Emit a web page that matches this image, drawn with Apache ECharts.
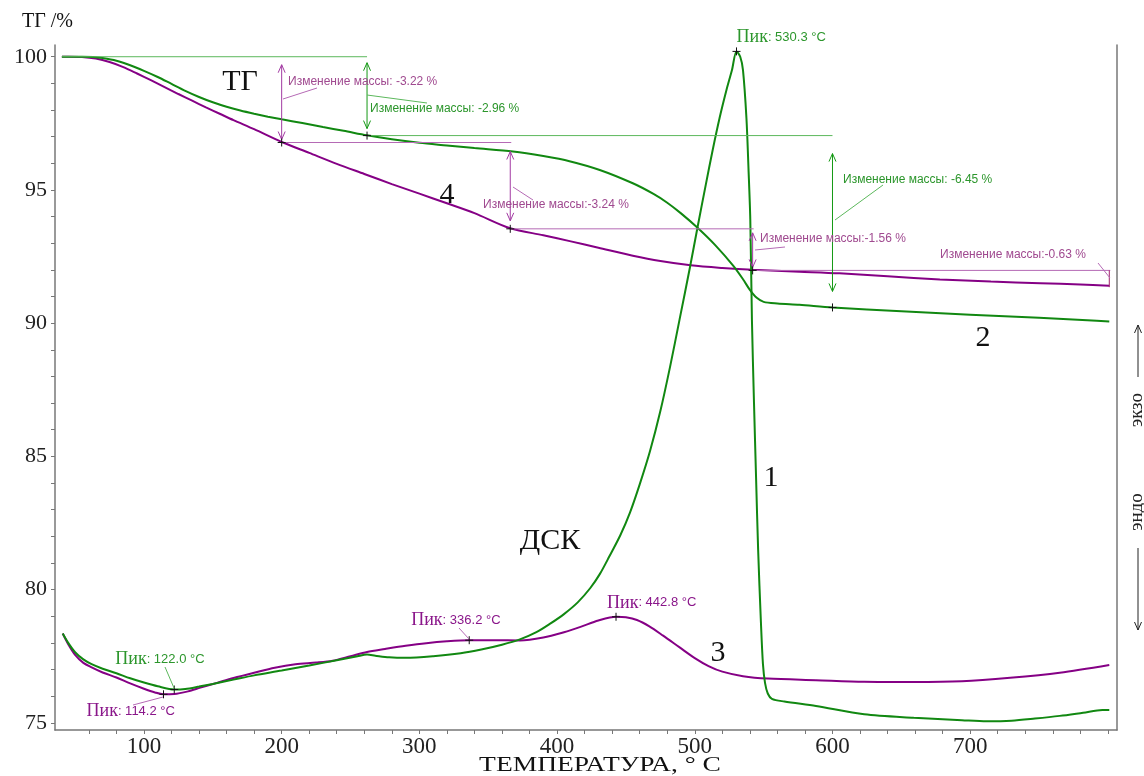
<!DOCTYPE html>
<html><head><meta charset="utf-8">
<script src="https://cdn.jsdelivr.net/npm/echarts@6/dist/echarts.min.js"></script>
<style>html,body{margin:0;padding:0;background:#fff}#c{width:1144px;height:776px}</style>
</head><body><div id="c"></div>
<script>
// ---- axis ticks / labels ----
const xTicks = [60,80,100,120,140,160,180,200,220,240,260,280,300,320,340,360,380,400,420,440,460,480,500,520,540,560,580,600,620,640,660,680,700,720,740,760,780,800];
const xLabels = [100,200,300,400,500,600,700];
const yTicks = [75,76,77,78,79,80,81,82,83,84,85,86,87,88,89,90,91,92,93,94,95,96,97,98,99,100];
const yLabels = [75,80,85,90,95,100];

// ---- curves [temperature, value] ----
const tgGreen = [[40.4,100],[55,100],[63,99.99],[70,99.95],[80,99.85],[90,99.68],[100,99.47],[110,99.24],[120,98.98],[130,98.72],[140,98.49],[150,98.29],[160,98.12],[170,97.98],[180,97.86],[190,97.75],[200,97.65],[215,97.51],[230,97.36],[245,97.22],[262,97.05],[280,96.9],[300,96.77],[320,96.67],[340,96.57],[368,96.44],[390,96.27],[409,96.08],[431,95.75],[455,95.25],[470,94.85],[480,94.52],[490,94.12],[502,93.58],[515,92.92],[528,92.15],[535,91.65],[540,91.25],[545,90.95],[550,90.8],[560,90.74],[576,90.69],[600,90.59],[650,90.45],[700,90.32],[750,90.2],[785,90.11],[801,90.06]];
const tgPurple = [[40.4,100],[45,100],[55,99.99],[65,99.93],[75,99.8],[85,99.61],[95,99.37],[105,99.12],[115,98.86],[125,98.6],[135,98.35],[145,98.1],[155,97.86],[165,97.62],[180,97.28],[200,96.8],[220,96.39],[240,95.98],[260,95.6],[280,95.22],[300,94.86],[320,94.5],[340,94.13],[366,93.56],[390,93.3],[410,93.07],[430,92.83],[455,92.53],[475,92.33],[497,92.17],[520,92.07],[542,92.0],[576,91.93],[605,91.87],[640,91.76],[678,91.64],[715,91.56],[751,91.5],[780,91.45],[801,91.4]];
const dscGreen = [[41,78.35],[45,78.0],[50,77.65],[56,77.38],[62,77.2],[70,77.03],[80,76.86],[90,76.67],[100,76.51],[110,76.37],[122,76.25],[130,76.27],[140,76.36],[150,76.46],[165,76.62],[180,76.78],[200,76.96],[220,77.15],[240,77.35],[255,77.5],[262,77.56],[268,77.52],[278,77.46],[290,77.44],[310,77.5],[330,77.61],[345,77.75],[360,77.93],[373,78.13],[385,78.4],[395,78.72],[405,79.08],[415,79.52],[424,80.05],[431,80.58],[438,81.25],[446,82.05],[453,82.9],[460,83.95],[467.5,85.2],[475,86.7],[482,88.35],[489,90.15],[496.5,92.1],[502,93.6],[508,95.2],[513,96.5],[518,97.7],[523,98.75],[527,99.5],[530.3,100.2],[533,100.0],[535,99.5],[537.5,97.7],[539,95.8],[540.3,93.9],[541.5,90.1],[543,87],[544.5,84.2],[546,81.5],[548,78.8],[549.5,77.2],[551,76.5],[553,76.1],[556,75.9],[565,75.8],[588,75.63],[623,75.32],[659,75.19],[694,75.1],[712,75.06],[730,75.08],[747,75.16],[765,75.26],[782,75.38],[796,75.48],[801,75.48]];
const dscPurple = [[41,78.35],[45,77.95],[50,77.55],[56,77.25],[62,77.08],[70,76.89],[80,76.7],[90,76.48],[100,76.28],[108,76.14],[114,76.07],[122,76.08],[132,76.18],[141,76.32],[153,76.5],[165,76.68],[180,76.88],[195,77.07],[210,77.2],[225,77.26],[237,77.33],[250,77.5],[262,77.66],[275,77.77],[290,77.89],[305,77.99],[320,78.06],[336,78.1],[355,78.1],[373,78.09],[390,78.2],[405,78.4],[417,78.6],[430,78.84],[443,78.98],[450,78.96],[458,78.86],[467,78.62],[477,78.27],[489,77.83],[500,77.43],[510,77.13],[520,76.92],[535,76.75],[553,76.66],[588,76.6],[623,76.54],[659,76.53],[694,76.56],[729,76.69],[765,76.88],[801,77.17]];

// ---- mass-change steps ----
const tgStart = 40.4;
const greenStepX = [262, 600];
const greenLevels = [100, 97.04, 90.59];
const greenChange = ['-2.96', '-6.45'];
const purpleStepX = [200, 366, 542, 801];
const purpleLevels = [100, 96.78, 93.54, 91.98, 91.35];
const purpleChange = ['-3.22', '-3.24', '-1.56', '-0.63'];

// ---- peaks ----
const peakX = [530.3, 122.0, 114.2, 336.2, 442.8];
const peakY = [100.2, 76.25, 76.07, 78.1, 78.98];
const peakText = ['530.3', '122.0', '114.2', '336.2', '442.8'];
const peakIsGreen = [true, true, false, false, false];

// ---- styling / layout ----
const serif = "'Liberation Serif','DejaVu Serif',serif";
const sans = "'Liberation Sans',Arial,sans-serif";
const C = {g:'#118811', p:'#850085', gLight:'#5cb85c', pLight:'#b56ab5', gText:'#2c962c', pText:'#a04a90', pPeak:'#8a168a', axis:'#777'};
const greenLabelLayout = [{lx:370, ly:109, lead:[367,95,427,103], gap:[6,7]}, {lx:843, ly:180, lead:[835,220,883,185], gap:[18,16]}];
const purpleLabelLayout = [{lx:288, ly:82, lead:[283,99,317,88], gap:[8,3], sep:': '}, {lx:483, ly:205, lead:[513,187,533,200], gap:[9,8], sep:':'}, {lx:760, ly:239, lead:[755,250,785,247], gap:[4,3], sep:':'}, {lx:940, ly:255, lead:[1110,278,1098,263], gap:[0,0], sep:':', plain:true}];
const peakLayout = [[0,-14,null],[-59,-30,[165,667,174,688]],[-77,17,[133,705,163,697]],[-58,-20,[459,628,469,639]],[-9,-14,null]];

const chart = echarts.init(document.getElementById('c'), null, {renderer:'canvas'});
function curve(name, data, color) {
  return {type:'line', name, data, showSymbol:false, smooth:0.3, silent:true,
    lineStyle:{color, width:2}, itemStyle:{color}, z:3};
}
const axisCommon = {axisLine:{show:true,onZero:false,lineStyle:{color:C.axis,width:1.5}}, splitLine:{show:false}};
chart.setOption({
  animation:false,
  grid:{left:55,right:27,top:45,bottom:46},
  xAxis:Object.assign({type:'value', min:35.4, max:806.6,
    axisTick:{show:true, customValues:xTicks, length:4, lineStyle:{color:C.axis}},
    axisLabel:{customValues:xLabels, fontFamily:serif, fontSize:23, color:'#222', margin:5}}, axisCommon),
  yAxis:[Object.assign({type:'value', min:74.73, max:100.44,
      axisTick:{show:true, customValues:yTicks, length:4, lineStyle:{color:C.axis}},
      axisLabel:{customValues:yLabels, fontFamily:serif, fontSize:22, color:'#222', margin:8}}, axisCommon),
    Object.assign({type:'value', position:'right', min:74.73, max:100.44, axisTick:{show:false}, axisLabel:{show:false}}, axisCommon)],
  series:[curve('tgPurple', tgPurple, C.p), curve('tgGreen', tgGreen, C.g), curve('dscPurple', dscPurple, C.p), curve('dscGreen', dscGreen, C.g)]
});

const P = (x, y) => chart.convertToPixel({gridIndex:0}, [x, y]);
const G = [];
function ln(x1,y1,x2,y2,stroke,w){G.push({type:'line',silent:true,z:10,shape:{x1,y1,x2,y2},style:{stroke,lineWidth:w||1}});}
function pl(points,stroke,w){G.push({type:'polyline',silent:true,z:10,shape:{points},style:{stroke,fill:null,lineWidth:w||1}});}
function txt(x,y,text,opt){G.push({type:'text',silent:true,z:12,x,y,rotation:opt.rot||0,scaleX:opt.sx||1,style:Object.assign({text,align:'left',verticalAlign:'middle'},opt.style)});}
function plus(x,y){ln(x-4,y,x+4,y,'#111');ln(x,y-4,x,y+4,'#111');}
function arrow(x,y1,y2,color){ln(x,y1,x,y2,color);pl([[x-3.5,y1+8],[x,y1],[x+3.5,y1+8]],color);pl([[x-3.5,y2-8],[x,y2],[x+3.5,y2-8]],color);}

// purple horizontals between steps, arrows, labels
for (let i=1;i<purpleStepX.length;i++){ const a=P(purpleStepX[i-1],purpleLevels[i]), b=P(purpleStepX[i],purpleLevels[i]); ln(a[0],a[1],b[0]+1,b[1],C.pLight); }
for (let i=0;i<purpleStepX.length;i++){
  const top=P(purpleStepX[i],purpleLevels[i]), bot=P(purpleStepX[i],purpleLevels[i+1]);
  const L=purpleLabelLayout[i];
  if (L.plain){ ln(top[0],top[1],bot[0],bot[1],'#a0206a'); }
  else { arrow(top[0], top[1]+L.gap[0], bot[1]-L.gap[1], '#a23aa2'); plus(bot[0],bot[1]); }
  ln(L.lead[0],L.lead[1],L.lead[2],L.lead[3],C.pLight);
  txt(L.lx, L.ly, 'Изменение массы' + L.sep + purpleChange[i] + ' %', {style:{fontFamily:sans,fontSize:12,fill:C.pText}});
}
// green horizontals, arrows, labels
{
  const a=P(tgStart,greenLevels[0]), b=P(greenStepX[0],greenLevels[0]); ln(a[0],a[1],b[0],b[1],C.gLight);
  const c=P(greenStepX[0],greenLevels[1]), d=P(greenStepX[1],greenLevels[1]); ln(c[0],c[1],d[0],d[1],C.gLight);
}
for (let i=0;i<greenStepX.length;i++){
  const top=P(greenStepX[i],greenLevels[i]), bot=P(greenStepX[i],greenLevels[i+1]);
  const L=greenLabelLayout[i];
  arrow(top[0], top[1]+L.gap[0], bot[1]-L.gap[1], '#159915'); plus(bot[0],bot[1]);
  ln(L.lead[0],L.lead[1],L.lead[2],L.lead[3],C.gLight);
  txt(L.lx, L.ly, 'Изменение массы: ' + greenChange[i] + ' %', {style:{fontFamily:sans,fontSize:12,fill:C.gText}});
}

// peaks
for (let i=0;i<peakX.length;i++){
  const p=P(peakX[i],peakY[i]); plus(p[0],p[1]);
  const L=peakLayout[i];
  const col = peakIsGreen[i] ? C.gText : C.pPeak;
  if (L[2]) ln(L[2][0],L[2][1],L[2][2],L[2][3], peakIsGreen[i]?C.gLight:C.pLight);
  G.push({type:'text',silent:true,z:12,x:p[0]+L[0],y:p[1]+L[1],style:{text:'{a|Пик}{b|: '+peakText[i]+' °C}',align:'left',verticalAlign:'middle',fill:col,
    rich:{a:{fontFamily:serif,fontSize:18,fill:col},b:{fontFamily:sans,fontSize:13,fill:col}}}});
}

// curve names
const big = {fontFamily:serif,fontSize:30,fill:'#111'};
[['ТГ',240,82],['4',447,195],['2',983,338],['1',771,478],['ДСК',550,541],['3',718,653]].forEach(t=>txt(t[1],t[2],t[0],{style:Object.assign({},big,{align:'center'})}));

// titles
txt(22,22,'ТГ /%',{style:{fontFamily:serif,fontSize:20,fill:'#111'}});
txt(600,765,'ТЕМПЕРАТУРА, ° С',{sx:1.25,style:{fontFamily:serif,fontSize:22,fill:'#111',align:'center'}});

// exo/endo
ln(1138,325,1138,377,'#222'); pl([[1134.5,333],[1138,325],[1141.5,333]],'#222');
ln(1138,548,1138,630,'#222'); pl([[1134.5,622],[1138,630],[1141.5,622]],'#222');
txt(1137,410,'экзо',{rot:Math.PI/2,style:{fontFamily:serif,fontSize:19,fill:'#222',align:'center'}});
txt(1137,512,'эндо',{rot:Math.PI/2,style:{fontFamily:serif,fontSize:19,fill:'#222',align:'center'}});

chart.setOption({graphic:G});
</script></body></html>
